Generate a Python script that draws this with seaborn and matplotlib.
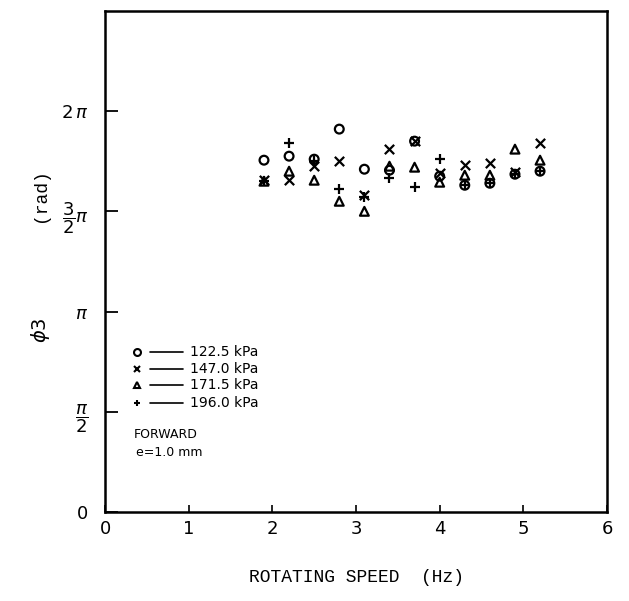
# phase phi3 vs rotating speed, four supply pressures
import numpy as np
import pandas as pd
import matplotlib
matplotlib.use("Agg")
import matplotlib.pyplot as plt
import seaborn as sns

# ---- data (phase in units of pi) ----
speed = [1.9, 2.2, 2.5, 2.8, 3.1, 3.4, 3.7, 4.0, 4.3, 4.6, 4.9, 5.2]

p1225 = [1.755, 1.775, 1.76, 1.91, 1.71, 1.705, 1.85, 1.675, 1.63, 1.64, 1.685, 1.70]
p1470 = [1.655, 1.655, 1.725, 1.75, 1.58, 1.81, 1.85, 1.69, 1.73, 1.74, 1.695, 1.84]
p1715 = [1.65, 1.70, 1.655, 1.55, 1.50, 1.725, 1.72, 1.645, 1.68, 1.68, 1.81, 1.755]
p1960 = [1.65, 1.84, 1.75, 1.61, 1.57, 1.665, 1.62, 1.76, 1.63, 1.64, 1.685, 1.70]

labels = ["122.5 kPa", "147.0 kPa", "171.5 kPa", "196.0 kPa"]
markers = ["o", "x", "^", "+"]

rows = []
for lab, vals in zip(labels, [p1225, p1470, p1715, p1960]):
    for s, v in zip(speed, vals):
        rows.append({"speed": s, "phase": v * np.pi, "pressure": lab})
data = pd.DataFrame(rows)

# ---- figure ----
sns.set_style("ticks")
plt.rcParams["font.family"] = ["DejaVu Sans"]
plt.rcParams["text.color"] = "black"
plt.rcParams["xtick.color"] = "black"
plt.rcParams["ytick.color"] = "black"
plt.rcParams["axes.labelcolor"] = "black"

fig = plt.figure(figsize=(6.29, 6.01), dpi=100)
ax = fig.add_axes([0.167, 0.148, 0.798, 0.834])

for lab, mk in zip(labels, markers):
    sub = data[data["pressure"] == lab]
    if mk in ("x", "+"):
        sns.scatterplot(x="speed", y="phase", data=sub, marker=mk,
                        color="black", s=45, linewidth=1.6, ax=ax)
    else:
        sns.scatterplot(x="speed", y="phase", data=sub, marker=mk,
                        facecolor="none", edgecolor="black", s=40,
                        linewidth=1.6, ax=ax)

ax.set_xlim(0, 6)
ax.set_ylim(0, 2.5 * np.pi)
ax.set_xticks(range(7))
ax.set_xticklabels([str(i) for i in range(7)], fontsize=13)
ax.set_yticks([0, np.pi / 2, np.pi, 1.5 * np.pi, 2 * np.pi])
ax.set_yticklabels(["0", r"$\dfrac{\pi}{2}$", r"$\pi$",
                    r"$\dfrac{3}{2}\pi$", r"$2\,\pi$"], fontsize=13)
ax.tick_params(axis="y", direction="in", length=9, width=1.3, pad=12)
ax.tick_params(axis="x", direction="in", length=5, width=1.2, pad=6)
for sp in ax.spines.values():
    sp.set_linewidth(1.8)
    sp.set_color("black")

ax.set_xlabel("ROTATING SPEED  (Hz)", family="Liberation Mono",
              fontsize=13, labelpad=22)
ax.set_ylabel("")
fig.text(0.064, 0.676, "(rad)", family="Liberation Mono", fontsize=13,
         rotation=90, ha="center", va="center")
fig.text(0.064, 0.451, r"$\phi$3", fontsize=14, rotation=90,
         ha="center", va="center")

# ---- hand-drawn style legend ----
ys = [0.319, 0.285, 0.253, 0.218]
for lab, mk, yy in zip(labels, markers, ys):
    if mk in ("x", "+"):
        ax.plot([0.064], [yy], marker=mk, color="black", ms=5, mew=1.5,
                transform=ax.transAxes)
    else:
        ax.plot([0.064], [yy], marker=mk, mfc="none", mec="black", ms=5,
                mew=1.5, transform=ax.transAxes)
    ax.plot([0.09, 0.155], [yy, yy], color="black", lw=1.2,
            transform=ax.transAxes)
    ax.text(0.17, yy, lab, fontsize=10, va="center", transform=ax.transAxes)

ax.text(0.058, 0.154, "FORWARD", fontsize=9, va="center",
        transform=ax.transAxes)
ax.text(0.062, 0.118, "e=1.0 mm", fontsize=9, va="center",
        transform=ax.transAxes)

fig.savefig("out.png", dpi=100)
